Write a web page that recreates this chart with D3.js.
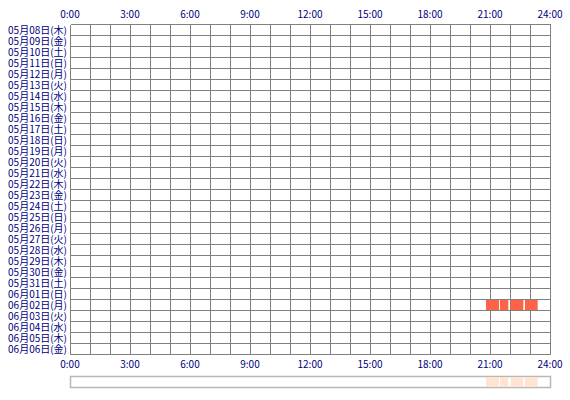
<!DOCTYPE html>
<html>
<head>
<meta charset="utf-8">
<script src="https://cdn.jsdelivr.net/npm/d3@7"></script>
<style>
  body { margin: 0; background: #fff; }
  .lbl { font-family: "Noto Sans CJK JP", sans-serif; font-size: 10px; fill: #000080; }
</style>
</head>
<body>
<svg id="chart" width="570" height="400"></svg>
<script>
// row labels (one per day)
const days = [
  "05月08日(木)", "05月09日(金)", "05月10日(土)", "05月11日(日)", "05月12日(月)",
  "05月13日(火)", "05月14日(水)", "05月15日(木)", "05月16日(金)", "05月17日(土)",
  "05月18日(日)", "05月19日(月)", "05月20日(火)", "05月21日(水)", "05月22日(木)",
  "05月23日(金)", "05月24日(土)", "05月25日(日)", "05月26日(月)", "05月27日(火)",
  "05月28日(水)", "05月29日(木)", "05月30日(金)", "05月31日(土)", "06月01日(日)",
  "06月02日(月)", "06月03日(火)", "06月04日(水)", "06月05日(木)", "06月06日(金)"
];

// hour tick labels
const hourTicks = [0, 3, 6, 9, 12, 15, 18, 21, 24];
const hourLabels = ["0:00", "3:00", "6:00", "9:00", "12:00", "15:00", "18:00", "21:00", "24:00"];

// activity spans: day label, start / end in minutes from midnight
const spanDay = ["06月02日(月)", "06月02日(月)", "06月02日(月)", "06月02日(月)"];
const spanStart = [1248, 1290, 1322, 1365];
const spanEnd = [1287, 1315, 1360, 1403];

const svg = d3.select('#chart');
const gridLeft = 70, gridRight = 550, gridTop = 24, rowH = 11;
const gridBottom = gridTop + rowH * days.length;

const x = d3.scaleLinear().domain([0, 24 * 60]).range([gridLeft, gridRight]);
const y = d3.scaleBand().domain(days).range([gridTop, gridBottom]);

// grid
const grid = svg.append('g').attr('stroke', '#808080').attr('stroke-width', 1).attr('shape-rendering', 'crispEdges');
grid.selectAll('line.v')
  .data(d3.range(0, 25))
  .enter().append('line')
  .attr('x1', h => Math.round(x(h * 60)) + 0.5)
  .attr('x2', h => Math.round(x(h * 60)) + 0.5)
  .attr('y1', gridTop + 0.5)
  .attr('y2', gridBottom + 0.5);
grid.selectAll('line.h')
  .data(days.concat(['end']))
  .enter().append('line')
  .attr('x1', gridLeft + 0.5)
  .attr('x2', gridRight + 0.5)
  .attr('y1', d => (d === 'end' ? gridBottom : y(d)) + 0.5)
  .attr('y2', d => (d === 'end' ? gridBottom : y(d)) + 0.5);

// spans
const spans = spanDay.map((d, i) => ({ day: d, s: spanStart[i], e: spanEnd[i] }));
svg.selectAll('rect.span')
  .data(spans)
  .enter().append('rect')
  .attr('x', d => x(d.s))
  .attr('y', d => y(d.day) + 1)
  .attr('width', d => x(d.e) - x(d.s))
  .attr('height', y.bandwidth() - 1)
  .attr('fill', '#ff6347');

// hour labels top and bottom
[gridTop - 6, gridBottom + 14].forEach(ty => {
  svg.append('g').selectAll('text')
    .data(hourTicks)
    .enter().append('text')
    .attr('class', 'lbl')
    .attr('x', h => x(h * 60))
    .attr('y', ty)
    .attr('text-anchor', 'middle')
    .text((h, i) => hourLabels[i]);
});

// day labels
svg.append('g').selectAll('text')
  .data(days)
  .enter().append('text')
  .attr('class', 'lbl')
  .attr('x', gridLeft - 3)
  .attr('y', d => y(d) + y.bandwidth() / 2 + 4)
  .attr('text-anchor', 'end')
  .text(d => d);

// overview strip
const stripTop = 377, stripH = 11;
svg.append('rect')
  .attr('x', gridLeft + 0.5)
  .attr('y', stripTop - 0.5)
  .attr('width', gridRight - gridLeft)
  .attr('height', stripH)
  .attr('fill', 'none')
  .attr('stroke', '#b8b8b8')
  .attr('stroke-width', 1.5);
svg.selectAll('rect.mini')
  .data(spans)
  .enter().append('rect')
  .attr('x', d => x(d.s))
  .attr('y', stripTop)
  .attr('width', d => x(d.e) - x(d.s))
  .attr('height', stripH - 1)
  .attr('fill', '#ffe4d4');
</script>
</body>
</html>
